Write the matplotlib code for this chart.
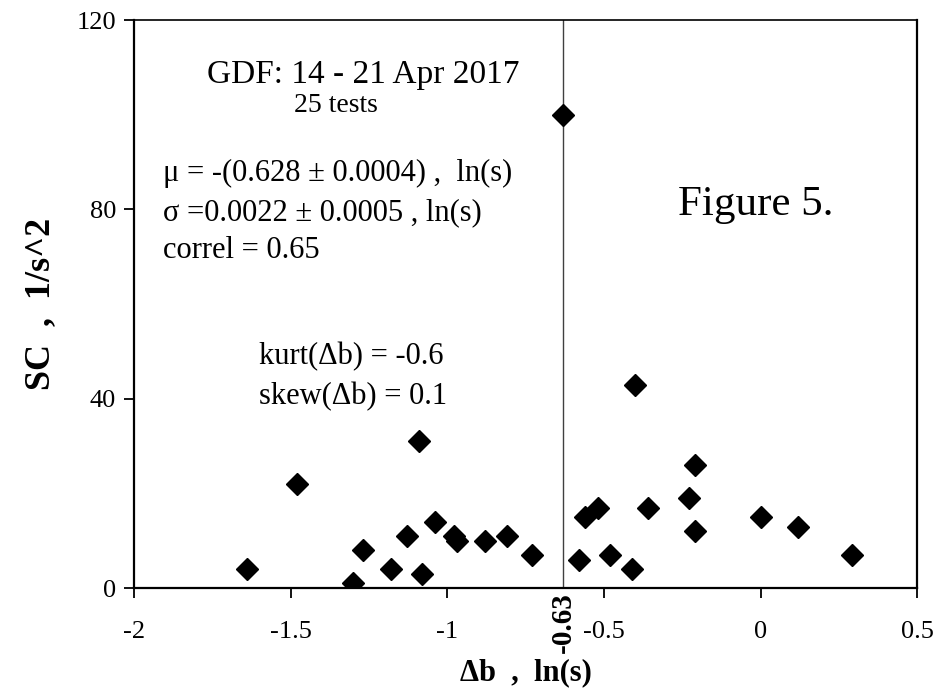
import numpy as np
import matplotlib
matplotlib.use("Agg")
import matplotlib.pyplot as plt
import matplotlib.transforms as mtransforms

plt.rcParams['font.family'] = ['Liberation Serif', 'DejaVu Serif']
plt.rcParams['mathtext.fontset'] = 'stix'

# data
db = [-1.64, -1.48, -1.30, -1.27, -1.18, -1.13, -1.09, -1.08, -1.04, -0.98,
      -0.97, -0.88, -0.81, -0.73, -0.63, -0.58, -0.56, -0.52, -0.48, -0.41,
      -0.40, -0.36, -0.23, -0.21, -0.21, 0.00, 0.12, 0.29]
sc = [4, 22, 1, 8, 4, 11, 31, 3, 14, 11,
      10, 10, 11, 7, 100, 6, 15, 17, 7, 4,
      43, 17, 19, 26, 12, 15, 13, 7]
mu_line = -0.63
xticks = [-2, -1.5, -1, -0.5, 0, 0.5]
xticklabels = ['-2', '-1.5', '-1', '-0.5', '0', '0.5']
yticks = [0, 40, 80, 120]

fig = plt.figure(figsize=(9.38, 6.91), dpi=100)
ax = fig.add_axes([0.143, 0.149, 0.835, 0.822])

ax.axvline(mu_line, color='#404040', lw=1.0, zorder=1)
ax.plot(db, sc, 'D', color='black', ms=11.5, mec='black', zorder=3)

ax.set_xlim(-2, 0.5)
ax.set_ylim(0, 120)
ax.set_xticks(xticks)
ax.set_xticklabels(xticklabels)
ax.set_yticks(yticks)
ax.tick_params(axis='x', direction='out', length=7, width=1.3, pad=17, labelsize=19)
ax.tick_params(axis='y', direction='out', length=7, width=1.3, pad=6, labelsize=19)
for s in ax.spines.values():
    s.set_linewidth(1.6)
ax.spines['top'].set_linewidth(1.2)

# rotated label under the vertical line
trans = mtransforms.blended_transform_factory(ax.transData, ax.transAxes)
ax.text(mu_line, -0.061, '-0.63', rotation=90, ha='center', va='center',
        fontsize=21, fontweight='bold', transform=trans)

ax.set_xlabel('Δb  ,  ln(s)', fontsize=22, fontweight='bold', labelpad=11)
ax.set_ylabel('SC  ,  1/s^2', fontsize=26, fontweight='bold', labelpad=14)

ax.text(-1.767, 108.4, 'GDF: 14 - 21 Apr 2017', fontsize=24, va='center')
ax.text(-1.49, 102.0, '25 tests', fontsize=20, va='center')
ax.text(-1.907, 87.6, 'μ = -(0.628 ± 0.0004) ,  ln(s)', fontsize=22, va='center')
ax.text(-1.907, 79.2, 'σ =0.0022 ± 0.0005 , ln(s)', fontsize=22, va='center')
ax.text(-1.907, 71.4, 'correl = 0.65', fontsize=22, va='center')
ax.text(-1.60, 48.9, 'kurt(Δb) = -0.6', fontsize=22, va='center')
ax.text(-1.60, 40.4, 'skew(Δb) = 0.1', fontsize=22, va='center')
ax.text(-0.265, 80.9, 'Figure 5.', fontsize=31, va='center')

fig.savefig('out.png', dpi=100)
